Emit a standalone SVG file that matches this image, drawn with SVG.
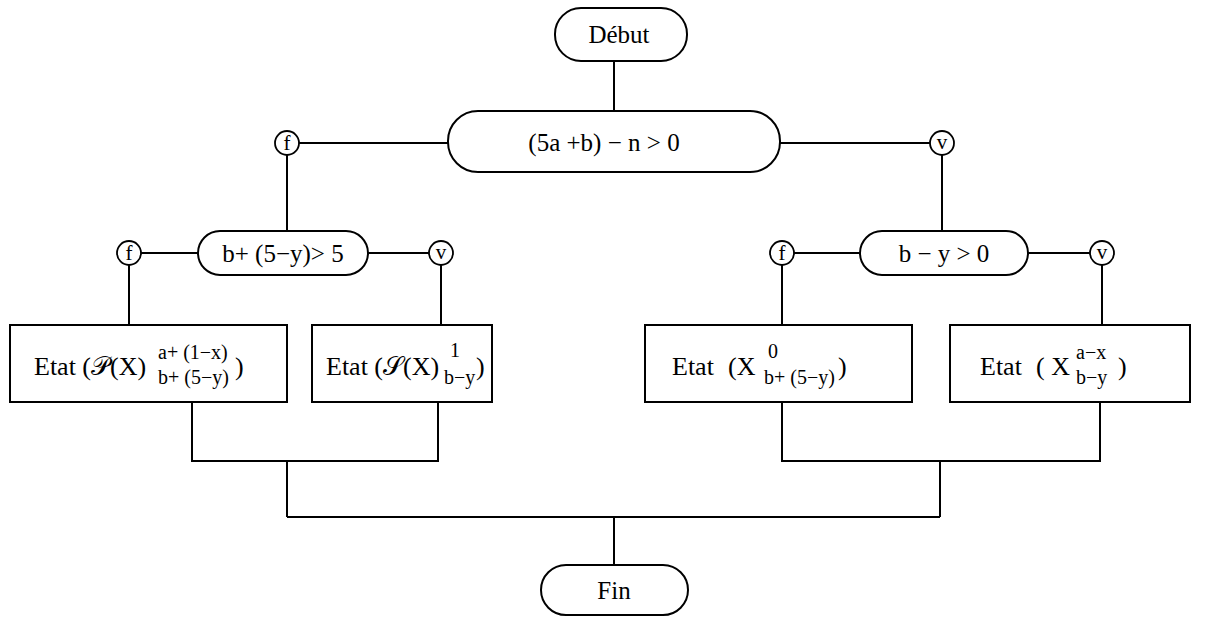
<svg xmlns="http://www.w3.org/2000/svg" width="1217" height="619" viewBox="0 0 1217 619">
<style>
.s{fill:none;stroke:#000;stroke-width:2}
.c{fill:#fff;stroke:#000;stroke-width:1.8}
.t{font-family:"Liberation Serif","DejaVu Serif",serif;font-size:25px;fill:#000}
.b{font-family:"Liberation Serif","DejaVu Serif",serif;font-size:26px;fill:#000}
.m{text-anchor:middle}
.sm{font-family:"Liberation Serif","DejaVu Serif",serif;font-size:20px;fill:#000}
.ct{font-family:"Liberation Serif","DejaVu Serif",serif;font-size:21px;fill:#000;text-anchor:middle}
</style>
<g id="connectors" class="s">
<path d="M614 61V111"/>
<path d="M299 143H448M780 143H930"/>
<path d="M287 155V231M942 155V231"/>
<path d="M141 253H198M368 253H429M794 253H860M1028 253H1090"/>
<path d="M129 265V325M441 265V325M782 265V325M1102 265V325"/>
<path d="M192 402V461H438V402M287 461V517"/>
<path d="M782 402V461H1100V402M940 461V517"/>
<path d="M287 517H940M614 517V565"/>
</g>
<g id="debut"><rect class="s" x="555" y="8" width="132" height="53" rx="26"/><text class="t m" x="619" y="43">Début</text></g>
<g id="test1"><rect class="s" x="448" y="111" width="332" height="61" rx="30"/><text class="t m" x="604" y="151">(5a +b) − n &gt; 0</text></g>
<g id="f1"><circle class="c" cx="287" cy="143" r="12"/><text class="ct" x="287" y="150">f</text></g>
<g id="v1"><circle class="c" cx="942" cy="143" r="12"/><text class="ct" x="942" y="149">v</text></g>
<g id="test2"><rect class="s" x="198" y="231" width="170" height="44" rx="22"/><text class="t m" x="283" y="262">b+ (5−y)&gt; 5</text></g>
<g id="test3"><rect class="s" x="860" y="231" width="168" height="44" rx="22"/><text class="t m" x="944" y="262">b − y &gt; 0</text></g>
<g id="f2"><circle class="c" cx="129" cy="253" r="12"/><text class="ct" x="129" y="260">f</text></g>
<g id="v2"><circle class="c" cx="441" cy="253" r="12"/><text class="ct" x="441" y="259">v</text></g>
<g id="f3"><circle class="c" cx="782" cy="253" r="12"/><text class="ct" x="782" y="260">f</text></g>
<g id="v3"><circle class="c" cx="1102" cy="253" r="12"/><text class="ct" x="1102" y="259">v</text></g>
<g id="etat1"><rect class="s" x="10" y="325" width="277" height="77"/>
<text class="b" x="34" y="375">Etat (𝒫(X)</text>
<text class="sm" x="158" y="359">a+ (1−x)</text>
<text class="sm" x="158" y="384">b+ (5−y)</text>
<text class="b" x="235" y="375">)</text></g>
<g id="etat2"><rect class="s" x="312" y="325" width="180" height="77"/>
<text class="b" x="326" y="375">Etat (𝒮(X)</text>
<text class="sm" x="450" y="357">1</text>
<text class="sm" x="444" y="384">b−y</text>
<text class="b" x="476" y="375">)</text></g>
<g id="etat3"><rect class="s" x="645" y="325" width="267" height="77"/>
<text class="b" x="672" y="375">Etat</text>
<text class="b" x="728" y="375">(X</text>
<text class="sm" x="768" y="358">0</text>
<text class="sm" x="764" y="384">b+ (5−y)</text>
<text class="b" x="838" y="375">)</text></g>
<g id="etat4"><rect class="s" x="950" y="325" width="240" height="77"/>
<text class="b" x="980" y="375">Etat</text>
<text class="b" x="1036" y="375">( X</text>
<text class="sm" x="1076" y="359">a−x</text>
<text class="sm" x="1076" y="384">b−y</text>
<text class="b" x="1118" y="375">)</text></g>
<g id="fin"><rect class="s" x="541" y="565" width="147" height="50" rx="25"/><text class="t m" x="614" y="599">Fin</text></g>
</svg>
